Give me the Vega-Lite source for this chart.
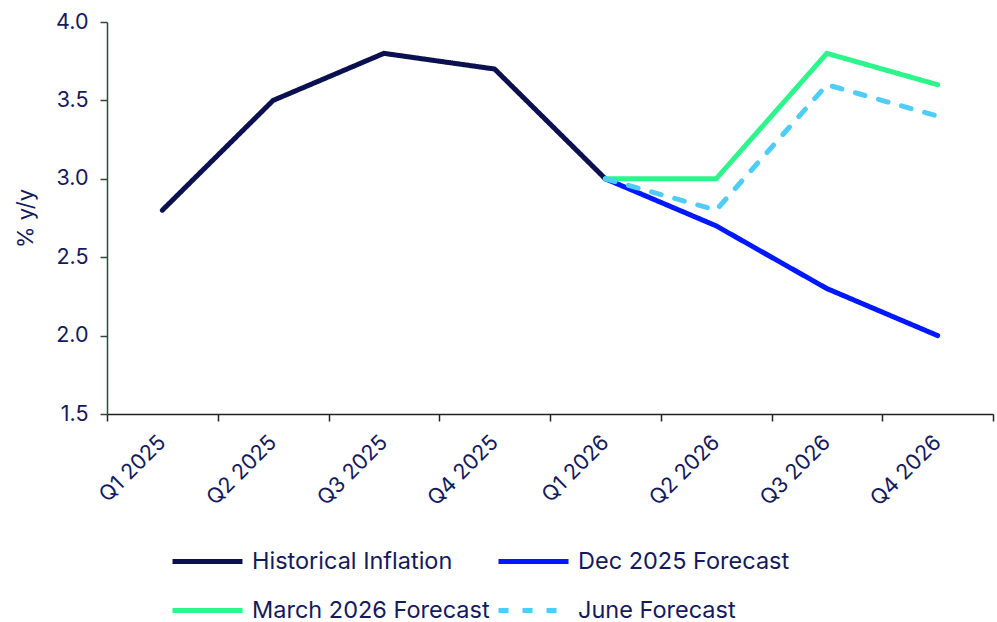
{
  "$schema": "https://vega.github.io/schema/vega-lite/v6.json",
  "width": 886,
  "height": 392,
  "autosize": {"type": "none"},
  "padding": {"left": 107, "top": 22, "right": 4, "bottom": 208},
  "background": "white",
  "config": {
    "font": "Inter",
    "view": {"stroke": null}
  },
  "data": {
    "values": [
      {"quarter": "Q1 2025", "series": "Historical Inflation", "value": 2.8},
      {"quarter": "Q2 2025", "series": "Historical Inflation", "value": 3.5},
      {"quarter": "Q3 2025", "series": "Historical Inflation", "value": 3.8},
      {"quarter": "Q4 2025", "series": "Historical Inflation", "value": 3.7},
      {"quarter": "Q1 2026", "series": "Historical Inflation", "value": 3.0},
      {"quarter": "Q1 2026", "series": "Dec 2025 Forecast", "value": 3.0},
      {"quarter": "Q2 2026", "series": "Dec 2025 Forecast", "value": 2.7},
      {"quarter": "Q3 2026", "series": "Dec 2025 Forecast", "value": 2.3},
      {"quarter": "Q4 2026", "series": "Dec 2025 Forecast", "value": 2.0},
      {"quarter": "Q1 2026", "series": "March 2026 Forecast", "value": 3.0},
      {"quarter": "Q2 2026", "series": "March 2026 Forecast", "value": 3.0},
      {"quarter": "Q3 2026", "series": "March 2026 Forecast", "value": 3.8},
      {"quarter": "Q4 2026", "series": "March 2026 Forecast", "value": 3.6},
      {"quarter": "Q1 2026", "series": "June Forecast", "value": 3.0},
      {"quarter": "Q2 2026", "series": "June Forecast", "value": 2.8},
      {"quarter": "Q3 2026", "series": "June Forecast", "value": 3.6},
      {"quarter": "Q4 2026", "series": "June Forecast", "value": 3.4}
    ]
  },
  "mark": {"type": "line", "strokeWidth": 5, "strokeCap": "round", "strokeJoin": "miter"},
  "encoding": {
    "x": {
      "field": "quarter",
      "type": "ordinal",
      "sort": ["Q1 2025", "Q2 2025", "Q3 2025", "Q4 2025", "Q1 2026", "Q2 2026", "Q3 2026", "Q4 2026"],
      "scale": {"type": "band", "paddingInner": 0, "paddingOuter": 0},
      "axis": {
        "title": null,
        "labelAngle": -45,
        "labelAlign": "right",
        "labelBaseline": "middle",
        "labelFontSize": 21.5,
        "labelColor": "#141a5c",
        "labelPadding": 18,
        "tickBand": "extent",
        "tickSize": 7,
        "tickColor": "#222222",
        "tickWidth": 1.5,
        "domainColor": "#222222",
        "domainWidth": 1.5,
        "grid": false
      }
    },
    "y": {
      "field": "value",
      "type": "quantitative",
      "scale": {"domain": [1.5, 4.0], "nice": false, "zero": false},
      "axis": {
        "title": "% y/y",
        "titleFontSize": 22,
        "titleFontWeight": "normal",
        "titleColor": "#141a5c",
        "titlePadding": 18,
        "values": [1.5, 2.0, 2.5, 3.0, 3.5, 4.0],
        "format": ".1f",
        "labelFontSize": 21.5,
        "labelColor": "#141a5c",
        "labelPadding": 12,
        "tickSize": 7,
        "tickColor": "#2e4a3a",
        "tickWidth": 1.5,
        "domainColor": "#2e4a3a",
        "domainWidth": 1.5,
        "grid": false
      }
    },
    "color": {
      "field": "series",
      "type": "nominal",
      "sort": ["Historical Inflation", "Dec 2025 Forecast", "March 2026 Forecast", "June Forecast"],
      "scale": {
        "domain": ["Historical Inflation", "Dec 2025 Forecast", "March 2026 Forecast", "June Forecast"],
        "range": ["#0b1150", "#0018ff", "#2cf58c", "#4fcdf7"]
      },
      "legend": {
        "title": null,
        "orient": "none",
        "legendX": 63,
        "legendY": 502,
        "direction": "horizontal",
        "columns": 2,
        "columnPadding": -2,
        "rowPadding": 0,
        "symbolType": "stroke",
        "symbolSize": 4900,
        "symbolStrokeWidth": 5,
        "labelFontSize": 23.5,
        "labelColor": "#141a5c",
        "labelOffset": 7,
        "labelLimit": 400
      }
    },
    "strokeDash": {
      "field": "series",
      "type": "nominal",
      "scale": {
        "domain": ["Historical Inflation", "Dec 2025 Forecast", "March 2026 Forecast", "June Forecast"],
        "range": [[1, 0], [1, 0], [1, 0], [10, 14]]
      },
      "legend": null
    },
    "order": {"field": "series"}
  }
}
